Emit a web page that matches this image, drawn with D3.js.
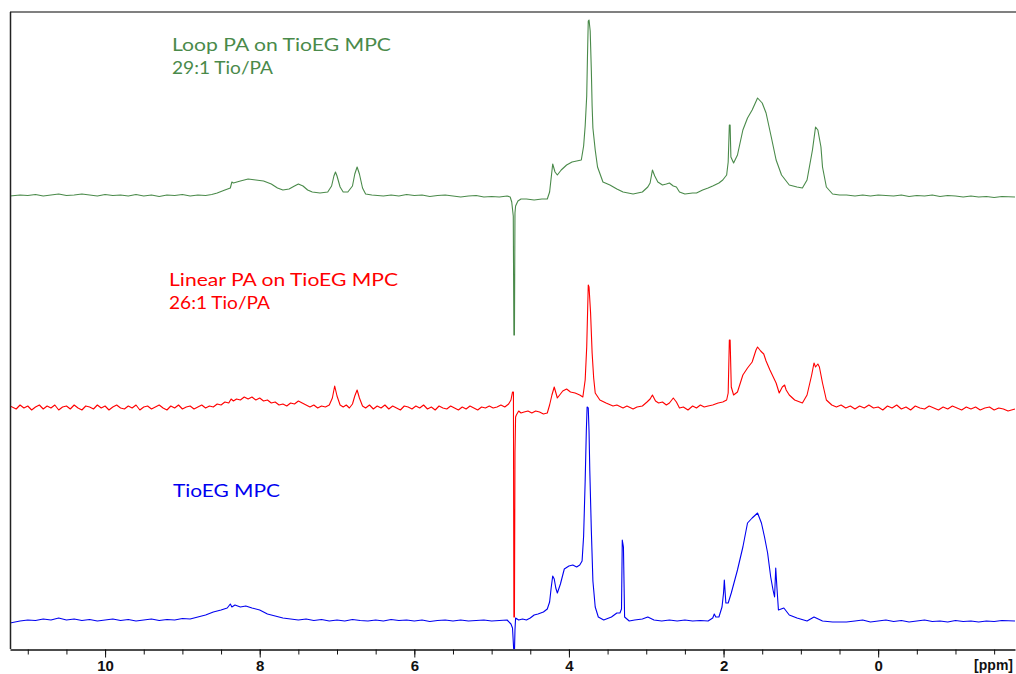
<!DOCTYPE html>
<html>
<head>
<meta charset="utf-8">
<script src="https://cdn.jsdelivr.net/npm/d3@7"></script>
<style>
  body { margin: 0; background: #fff; }
  .trace { fill: none; stroke-width: 1.1; stroke-linejoin: round; }
  .axis line, .axis path { stroke: #111; }
  .label { font-family: Lato, "Noto Sans", sans-serif; font-size: 17px; }
</style>
</head>
<body>
<div id="chart"></div>
<script>
// 1H NMR spectra, [ppm, intensity] (intensity above own baseline)
const loopPA = [
  [11.23, 0], [11.10, 1], [11.00, 0.5], [10.90, 1.5], [10.80, 0], [10.70, 1], [10.60, 2], [10.50, 0.5],
  [10.40, 1], [10.30, 2], [10.20, 1], [10.10, 0], [10.00, 1.5], [9.90, 0.5], [9.80, 1], [9.70, 0],
  [9.60, 1.5], [9.50, 0], [9.40, 1], [9.30, -0.5], [9.20, 1], [9.10, 0.5], [9.00, 1.5], [8.90, 0],
  [8.80, 1], [8.70, 0.5], [8.62, 1.5], [8.55, 3], [8.45, 6], [8.38, 8], [8.36, 14], [8.34, 13],
  [8.25, 15], [8.15, 17], [8.05, 16], [7.95, 15], [7.85, 12], [7.77, 8], [7.70, 6], [7.62, 7],
  [7.55, 10], [7.50, 12], [7.44, 10], [7.38, 6], [7.32, 4], [7.22, 3], [7.12, 4], [7.07, 10],
  [7.04, 20], [7.02, 24], [7.00, 20], [6.96, 9], [6.92, 4], [6.86, 4], [6.80, 10], [6.77, 22],
  [6.74, 29], [6.71, 22], [6.67, 8], [6.63, 2], [6.55, 1], [6.40, 0], [6.30, 1], [6.20, 0],
  [6.10, 1.5], [6.00, 0.5], [5.90, 1], [5.80, -0.5], [5.70, 0.5], [5.60, 1], [5.50, 0], [5.40, -1],
  [5.30, 0], [5.20, 0.5], [5.10, -1], [5.00, -0.5], [4.90, -1], [4.80, 0], [4.76, -1], [4.74, -6],
  [4.72, -20], [4.712, -139], [4.705, -139], [4.698, -17], [4.69, -10], [4.66, -5], [4.62, -3],
  [4.55, -3], [4.45, -4], [4.35, -3], [4.28, -3], [4.25, 4], [4.23, 18], [4.21, 32], [4.18, 24],
  [4.15, 21], [4.10, 26], [4.03, 31], [3.96, 34], [3.90, 35], [3.84, 36], [3.81, 50], [3.79, 70],
  [3.77, 100], [3.76, 140], [3.75, 175], [3.74, 176], [3.725, 165], [3.71, 125], [3.70, 90],
  [3.69, 68], [3.66, 46], [3.63, 29], [3.56, 14], [3.47, 11], [3.38, 7], [3.30, 4], [3.17, 2],
  [3.05, 4], [2.98, 9], [2.95, 13], [2.92, 26], [2.89, 20], [2.85, 14], [2.79, 11], [2.74, 12],
  [2.70, 13], [2.65, 10], [2.61, 9], [2.57, 4], [2.50, 2], [2.40, 3], [2.35, 3], [2.27, 6],
  [2.20, 8], [2.14, 10], [2.06, 13], [2.01, 16], [1.96, 21], [1.94, 34], [1.925, 71], [1.915, 71],
  [1.905, 39], [1.87, 33], [1.82, 41], [1.75, 66], [1.69, 78], [1.63, 86], [1.56, 98], [1.50, 93],
  [1.45, 83], [1.38, 58], [1.32, 36], [1.25, 21], [1.15, 11], [1.05, 9], [0.98, 8], [0.92, 16],
  [0.85, 46], [0.81, 69], [0.78, 66], [0.74, 49], [0.72, 29], [0.67, 9], [0.59, 2], [0.50, 1],
  [0.41, 1], [0.30, 0], [0.20, 1], [0.10, 0], [0.00, 1], [-0.10, 0.5], [-0.20, 0], [-0.30, 1],
  [-0.40, -0.5], [-0.50, 0.5], [-0.60, 0], [-0.70, 1], [-0.80, -0.5], [-0.90, 0.5], [-1.00, 0],
  [-1.10, -1], [-1.20, 0], [-1.30, -1], [-1.40, -0.5], [-1.50, -1.5], [-1.60, -0.5], [-1.77, -1]
];

const linearPA = [
  [11.23, 2], [11.15, -1], [11.10, 3], [11.05, 0], [11.00, 2], [10.95, -2], [10.90, 1], [10.85, 3],
  [10.80, -1], [10.75, 2], [10.70, 0], [10.65, 3], [10.60, -2], [10.55, 1], [10.50, 2], [10.45, -1],
  [10.40, 3], [10.35, 0], [10.30, -2], [10.25, 2], [10.20, 1], [10.15, -1], [10.10, 3], [10.05, 0],
  [10.00, 2], [9.95, -2], [9.90, 1], [9.85, 3], [9.80, 0], [9.75, -1], [9.70, 2], [9.65, 0],
  [9.60, 3], [9.55, -2], [9.50, 1], [9.45, 2], [9.40, -1], [9.35, 1], [9.30, 3], [9.25, 0],
  [9.20, -2], [9.15, 2], [9.10, 0], [9.05, 3], [9.00, -1], [8.95, 1], [8.90, 2], [8.85, -1],
  [8.80, 1], [8.75, 3], [8.70, 0], [8.65, 2], [8.60, 1], [8.55, 4], [8.50, 3], [8.45, 6],
  [8.40, 5], [8.37, 9], [8.34, 7], [8.30, 9], [8.25, 8], [8.20, 11], [8.15, 9], [8.10, 11],
  [8.05, 8], [8.00, 10], [7.95, 7], [7.90, 8], [7.85, 5], [7.80, 6], [7.75, 3], [7.70, 4],
  [7.65, 2], [7.60, 5], [7.55, 4], [7.50, 7], [7.45, 5], [7.40, 3], [7.35, 1], [7.30, 3],
  [7.25, 0], [7.20, 2], [7.15, 1], [7.10, 3], [7.06, 10], [7.03, 22], [7.00, 12], [6.96, 3],
  [6.92, 1], [6.88, 3], [6.84, 0], [6.80, 4], [6.77, 12], [6.74, 18], [6.71, 10], [6.67, 2],
  [6.63, 0], [6.58, 3], [6.53, -1], [6.48, 2], [6.43, 0], [6.38, 3], [6.33, -1], [6.28, 2],
  [6.23, 0], [6.18, -2], [6.13, 2], [6.08, 1], [6.03, -1], [5.98, 2], [5.93, 0], [5.88, 3],
  [5.83, -1], [5.78, 1], [5.73, -2], [5.68, 2], [5.63, 0], [5.58, -1], [5.53, 2], [5.48, 0],
  [5.43, -2], [5.38, 1], [5.33, -1], [5.28, 2], [5.23, 0], [5.18, -2], [5.13, 1], [5.08, 0],
  [5.03, 2], [4.98, 0], [4.93, 1], [4.88, 3], [4.83, 1], [4.78, 4], [4.75, 8], [4.73, 16],
  [4.718, 16], [4.712, -209], [4.705, -209], [4.698, -45], [4.69, -9], [4.68, -7], [4.65, -3],
  [4.62, -5], [4.58, -4], [4.53, -3], [4.48, -5], [4.43, -3], [4.38, -4], [4.33, -6], [4.28, -5],
  [4.25, 3], [4.22, 13], [4.19, 21], [4.15, 10], [4.12, 13], [4.08, 17], [4.03, 19], [3.98, 16],
  [3.92, 15], [3.86, 13], [3.82, 11], [3.79, 28], [3.77, 61], [3.75, 123], [3.74, 121], [3.72, 95],
  [3.70, 55], [3.68, 30], [3.66, 15], [3.60, 8], [3.52, 5], [3.43, 2], [3.38, 3], [3.30, 0],
  [3.25, 2], [3.17, -1], [3.12, 1], [3.05, 2], [2.99, 6], [2.95, 9], [2.92, 13], [2.88, 7],
  [2.84, 5], [2.79, 6], [2.74, 3], [2.70, 5], [2.65, 10], [2.61, 6], [2.57, 0], [2.52, 1],
  [2.46, -2], [2.40, 2], [2.35, 0], [2.30, 3], [2.25, 1], [2.20, 2], [2.14, 3], [2.07, 5],
  [2.01, 6], [1.96, 8], [1.94, 15], [1.925, 68], [1.915, 68], [1.90, 21], [1.87, 13], [1.82, 16],
  [1.75, 33], [1.69, 40], [1.63, 46], [1.58, 58], [1.56, 61], [1.52, 57], [1.48, 54], [1.45, 47],
  [1.40, 38], [1.32, 25], [1.28, 15], [1.24, 21], [1.21, 23], [1.19, 18], [1.15, 13], [1.08, 8],
  [0.98, 5], [0.92, 13], [0.86, 33], [0.83, 45], [0.81, 41], [0.78, 44], [0.76, 41], [0.72, 25],
  [0.67, 8], [0.60, 3], [0.54, 1], [0.48, 3], [0.42, 0], [0.36, 2], [0.30, -1], [0.24, 2],
  [0.18, 0], [0.12, 3], [0.06, 0], [0.00, 1], [-0.06, -2], [-0.12, 2], [-0.18, 0], [-0.24, 3],
  [-0.30, -1], [-0.36, 1], [-0.42, -2], [-0.48, 2], [-0.54, 0], [-0.60, -1], [-0.66, 2], [-0.72, 0],
  [-0.78, -2], [-0.84, 1], [-0.90, -1], [-0.96, 2], [-1.02, 0], [-1.08, -2], [-1.14, 1], [-1.20, -1],
  [-1.26, 1], [-1.32, -2], [-1.38, 0], [-1.44, 1], [-1.50, -2], [-1.56, 0], [-1.62, -1], [-1.68, -3],
  [-1.77, -1]
];

const tioEG = [
  [11.23, -2], [11.10, 0], [11.00, 1], [10.90, 0.5], [10.80, 2], [10.70, 1], [10.60, 3], [10.50, 1],
  [10.40, 2], [10.30, 0.5], [10.20, 1.5], [10.10, 0], [10.00, 1], [9.90, 2], [9.80, 0.5], [9.70, 1.5],
  [9.60, 0], [9.50, 1], [9.40, 2], [9.30, 0.5], [9.20, 1.5], [9.10, 1], [9.00, 2.5], [8.90, 2],
  [8.80, 4], [8.70, 6], [8.60, 9], [8.50, 11], [8.42, 13], [8.38, 17], [8.36, 14], [8.32, 16],
  [8.25, 14], [8.18, 15], [8.10, 13], [8.00, 11], [7.90, 7], [7.80, 5], [7.70, 3], [7.60, 2],
  [7.50, 1], [7.40, 2], [7.30, 0.5], [7.20, 1.5], [7.10, 0], [7.00, 1], [6.90, 0], [6.80, 1.5],
  [6.70, 0.5], [6.60, 0], [6.50, 1], [6.40, 0], [6.30, 1.5], [6.20, 0.5], [6.10, 1], [6.00, 0],
  [5.90, 1], [5.80, -0.5], [5.70, 0.5], [5.60, 1], [5.50, 0], [5.40, 1], [5.30, 0], [5.20, 0.5],
  [5.10, 1], [5.00, 0], [4.90, 0.5], [4.80, 1], [4.75, -3], [4.73, -7], [4.712, -32], [4.705, -32],
  [4.698, -9], [4.69, 3], [4.65, 1], [4.60, 2], [4.55, 1], [4.50, 3], [4.45, 6], [4.40, 7],
  [4.33, 9], [4.28, 12], [4.25, 19], [4.23, 33], [4.21, 45], [4.19, 42], [4.17, 33], [4.15, 28],
  [4.11, 37], [4.06, 52], [4.00, 55], [3.95, 56], [3.90, 54], [3.86, 56], [3.83, 60], [3.81, 85],
  [3.79, 140], [3.775, 190], [3.765, 214], [3.75, 213], [3.74, 190], [3.73, 150], [3.71, 90],
  [3.69, 40], [3.66, 14], [3.62, 4], [3.55, 1], [3.45, 4], [3.38, 8], [3.34, 8], [3.32, 12],
  [3.31, 81], [3.295, 74], [3.28, 4], [3.22, 0], [3.15, 1], [3.05, 2], [2.98, 4], [2.90, 1],
  [2.80, 0], [2.70, 1], [2.60, 0], [2.50, 1], [2.40, 0], [2.30, 0.5], [2.20, 0], [2.14, 3],
  [2.12, 7], [2.10, 4], [2.06, 4], [2.02, 14], [2.00, 28], [1.99, 41], [1.97, 18], [1.94, 18],
  [1.90, 28], [1.82, 51], [1.75, 74], [1.69, 98], [1.63, 103], [1.56, 108], [1.51, 98], [1.47, 84],
  [1.43, 68], [1.39, 44], [1.36, 31], [1.34, 24], [1.325, 53], [1.31, 34], [1.29, 11], [1.22, 13],
  [1.15, 6], [1.05, 3], [0.92, 0], [0.83, 4], [0.72, 0], [0.59, -1], [0.41, -1], [0.30, 0],
  [0.20, 1], [0.10, -1], [0.00, 0], [-0.10, 1], [-0.20, -0.5], [-0.30, 0.5], [-0.40, -1], [-0.50, 0],
  [-0.60, 1], [-0.70, -0.5], [-0.80, 0], [-0.90, -1], [-1.00, 0.5], [-1.10, -0.5], [-1.20, 0],
  [-1.30, -1], [-1.40, 0], [-1.50, -0.5], [-1.60, 0.5], [-1.77, 0]
];

const majorTicks = [10, 8, 6, 4, 2, 0];
const minorTicks = [11, 10.5, 10, 9.5, 9, 8.5, 8, 7.5, 7, 6.5, 6, 5.5, 5, 4.5, 4, 3.5, 3, 2.5, 2, 1.5, 1, 0.5, 0, -0.5, -1, -1.5];

const loopLabel = ['Loop PA on TioEG MPC', '29:1 Tio/PA'];
const linearLabel = ['Linear PA on TioEG MPC', '26:1 Tio/PA'];
const tioLabel = ['TioEG MPC'];

// stacked traces: offset = vertical shift in intensity units
const traces = [
  { data: tioEG, offset: 0, color: '#0000f0', label: tioLabel, lx: 173, ly: [497], lw: [107] },
  { data: linearPA, offset: 213, color: '#ff0000', label: linearLabel, lx: 169, ly: [286, 309], lw: [229, 101] },
  { data: loopPA, offset: 425, color: '#4a8a4a', label: loopLabel, lx: 172, ly: [51, 74], lw: [219, 101] }
];

const width = 1016;
const height = 674;
const plot = { left: 10, right: 1015, top: 12, bottom: 649 };

const svg = d3.select('#chart').append('svg')
  .attr('width', width)
  .attr('height', height);

// ppm axis runs right to left
const x = d3.scaleLinear()
  .domain([11.23, -1.77])
  .range([plot.left, plot.right]);

const y = d3.scaleLinear()
  .domain([-30, 610])
  .range([651, 11]);

svg.append('clipPath')
  .attr('id', 'clip')
  .append('rect')
  .attr('x', plot.left)
  .attr('y', plot.top)
  .attr('width', width - plot.left)
  .attr('height', plot.bottom - plot.top);

const line = d3.line()
  .x(d => x(d[0]))
  .y(d => y(d[1]));

const g = svg.append('g').attr('clip-path', 'url(#clip)');

traces.forEach(t => {
  g.append('path')
    .attr('class', 'trace')
    .attr('stroke', t.color)
    .attr('d', line(t.data.map(d => [d[0], d[1] + t.offset])));

  t.label.forEach((txt, i) => {
    svg.append('text')
      .attr('class', 'label')
      .attr('x', t.lx)
      .attr('y', t.ly[i])
      .attr('fill', t.color)
      .attr('textLength', t.lw[i])
      .attr('lengthAdjust', 'spacingAndGlyphs')
      .text(txt);
  });
});

// frame: grey top rule, dark left edge
svg.append('line')
  .attr('x1', plot.left).attr('x2', width)
  .attr('y1', plot.top).attr('y2', plot.top)
  .attr('stroke', '#808080')
  .attr('stroke-width', 2);

svg.append('line')
  .attr('x1', plot.left + 0.5).attr('x2', plot.left + 0.5)
  .attr('y1', plot.top).attr('y2', plot.bottom)
  .attr('stroke', '#222')
  .attr('stroke-width', 1.5);

// minor ticks every 0.5 ppm
svg.append('g')
  .attr('class', 'axis')
  .attr('transform', `translate(0,${plot.bottom + 0.5})`)
  .call(d3.axisBottom(x).tickValues(minorTicks).tickSize(5).tickSizeOuter(0).tickFormat(''))
  .select('.domain').attr('stroke-width', 1.5);

// labelled ticks at even ppm
svg.append('g')
  .attr('class', 'axis')
  .attr('transform', `translate(0,${plot.bottom + 0.5})`)
  .call(d3.axisBottom(x).tickValues(majorTicks).tickSize(8).tickPadding(3).tickSizeOuter(0).tickFormat(d3.format('d')))
  .call(a => a.select('.domain').remove())
  .call(a => a.selectAll('text')
    .attr('font-family', '"Liberation Sans", Arial, sans-serif')
    .attr('font-weight', 'bold')
    .attr('font-size', 15)
    .attr('fill', '#111'));

svg.append('text')
  .attr('x', 1013)
  .attr('y', 670)
  .attr('text-anchor', 'end')
  .attr('font-family', '"Liberation Sans", Arial, sans-serif')
  .attr('font-weight', 'bold')
  .attr('font-size', 14)
  .attr('fill', '#111')
  .text('[ppm]');
</script>
</body>
</html>
